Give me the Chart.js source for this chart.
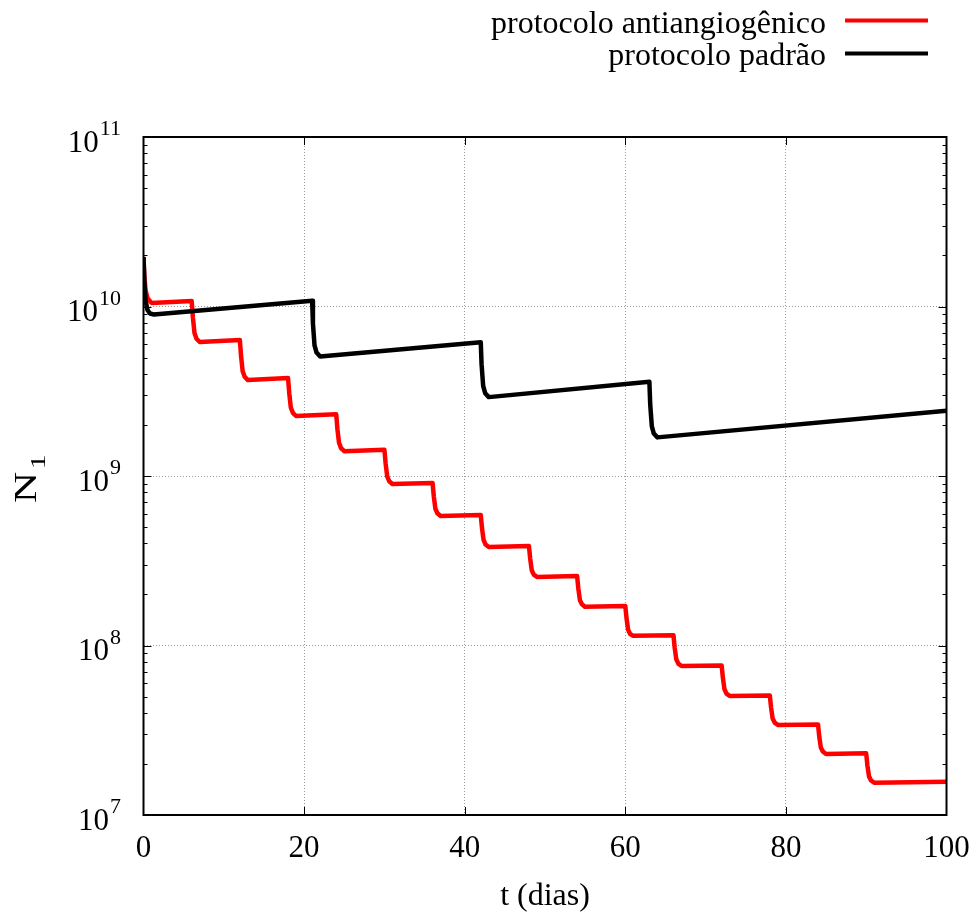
<!DOCTYPE html>
<html>
<head>
<meta charset="utf-8">
<title>N1 - protocolos</title>
<script src="https://cdn.jsdelivr.net/npm/chart.js@4.4.0/dist/chart.umd.min.js"></script>
<style>
  html, body { margin: 0; padding: 0; background: #fff; }
  #wrap { width: 978px; height: 913px; }
</style>
</head>
<body>
<div id="wrap"><canvas id="grafico" width="978" height="913"></canvas></div>
<script>
// dados (t em dias, N1 em células)
const tAnti = [0, 0.1, 0.25, 0.5, 1,
  6, 6.15, 6.35, 6.6, 7,
  12, 12.15, 12.35, 12.6, 13,
  18, 18.15, 18.35, 18.6, 19,
  24, 24.15, 24.35, 24.6, 25,
  30, 30.15, 30.35, 30.6, 31,
  36, 36.15, 36.35, 36.6, 37,
  42, 42.15, 42.35, 42.6, 43,
  48, 48.15, 48.35, 48.6, 49,
  54, 54.15, 54.35, 54.6, 55,
  60, 60.15, 60.35, 60.6, 61,
  66, 66.15, 66.35, 66.6, 67,
  72, 72.15, 72.35, 72.6, 73,
  78, 78.15, 78.35, 78.6, 79,
  84, 84.15, 84.35, 84.6, 85,
  90, 90.15, 90.35, 90.6, 91,
  100];
const nAnti = [1.96e10, 1.53e10, 1.25e10, 1.12e10, 1.05e10,
  1.076e10, 8.61e9, 6.97e9, 6.45e9, 6.17e9,
  6.34e9, 5.10e9, 4.15e9, 3.85e9, 3.68e9,
  3.78e9, 3.08e9, 2.53e9, 2.36e9, 2.26e9,
  2.31e9, 1.89e9, 1.57e9, 1.46e9, 1.40e9,
  1.43e9, 1.19e9, 9.95e8, 9.31e8, 8.97e8,
  9.10e8, 7.60e8, 6.41e8, 6.03e8, 5.81e8,
  5.89e8, 4.94e8, 4.20e8, 3.94e8, 3.81e8,
  3.86e8, 3.27e8, 2.78e8, 2.62e8, 2.54e8,
  2.57e8, 2.17e8, 1.85e8, 1.75e8, 1.69e8,
  1.71e8, 1.45e8, 1.24e8, 1.17e8, 1.14e8,
  1.15e8, 9.70e7, 8.29e7, 7.82e7, 7.57e7,
  7.62e7, 6.46e7, 5.52e7, 5.20e7, 5.04e7,
  5.07e7, 4.32e7, 3.71e7, 3.51e7, 3.40e7,
  3.42e7, 2.91e7, 2.50e7, 2.37e7, 2.29e7,
  2.31e7, 1.96e7, 1.69e7, 1.60e7, 1.55e7,
  1.57e7];

const tPadrao = [0, 0.1, 0.25, 0.5, 0.8, 1.3,
  21, 21.1, 21.3, 21.55, 22,
  42, 42.1, 42.3, 42.55, 43,
  63, 63.1, 63.3, 63.55, 64,
  100];
const nPadrao = [1.96e10, 1.43e10, 1.09e10, 9.53e9, 9.09e9, 8.97e9,
  1.08e10, 7.96e9, 5.89e9, 5.35e9, 5.07e9,
  6.16e9, 4.57e9, 3.40e9, 3.08e9, 2.92e9,
  3.60e9, 2.66e9, 1.97e9, 1.78e9, 1.69e9,
  2.43e9];

const xTicks = [0, 20, 40, 60, 80, 100];
const yExpoentes = [7, 8, 9, 10, 11];

const labelAnti = 'protocolo antiangiogênico';
const labelPadrao = 'protocolo padrão';
const tituloX = 't (dias)';
const tituloY = 'N';
const tituloYSub = '1';

const fonte = 'Liberation Serif';

function pontos(ts, ns) {
    return ts.map((t, i) => ({ x: t, y: ns[i] }));
}

// eixos, marcas, rótulos em potência de 10 e legenda (estilo gnuplot)
const extras = {
    id: 'extras',
    afterDraw(chart) {
        const { ctx, chartArea: a, scales: { x, y } } = chart;
        ctx.save();

        // marcas internas
        ctx.strokeStyle = '#000';
        ctx.lineWidth = 1;
        ctx.beginPath();
        xTicks.slice(1, -1).forEach(v => {
            const px = Math.round(x.getPixelForValue(v)) + 0.5;
            ctx.moveTo(px, a.bottom); ctx.lineTo(px, a.bottom - 8);
            ctx.moveTo(px, a.top); ctx.lineTo(px, a.top + 8);
        });
        yExpoentes.forEach((e, i) => {
            const py = Math.round(y.getPixelForValue(Math.pow(10, e))) + 0.5;
            ctx.moveTo(a.left, py); ctx.lineTo(a.left + 8, py);
            ctx.moveTo(a.right, py); ctx.lineTo(a.right - 8, py);
            if (i < yExpoentes.length - 1) {
                for (let m = 2; m <= 9; m++) {
                    const pm = Math.round(y.getPixelForValue(m * Math.pow(10, e))) + 0.5;
                    ctx.moveTo(a.left, pm); ctx.lineTo(a.left + 4, pm);
                    ctx.moveTo(a.right, pm); ctx.lineTo(a.right - 4, pm);
                }
            }
        });
        ctx.stroke();

        // caixa
        ctx.lineWidth = 2;
        ctx.strokeRect(a.left, a.top, a.right - a.left, a.bottom - a.top);

        // rótulos do eixo y: 10^e
        ctx.fillStyle = '#000';
        ctx.textBaseline = 'alphabetic';
        yExpoentes.forEach(e => {
            const py = y.getPixelForValue(Math.pow(10, e));
            const exp = String(e);
            ctx.font = '22px "' + fonte + '"';
            const w = ctx.measureText(exp).width;
            ctx.textAlign = 'left';
            ctx.fillText(exp, 121 - w, py - 2);
            ctx.font = '31px "' + fonte + '"';
            ctx.textAlign = 'right';
            ctx.fillText('10', 121 - w - 1, py + 14.5);
        });

        // título do eixo y: N com índice 1
        ctx.save();
        ctx.translate(36, 503);
        ctx.rotate(-Math.PI / 2);
        ctx.scale(1.35, 1);
        ctx.textAlign = 'left';
        ctx.font = '32px "' + fonte + '"';
        ctx.fillText(tituloY, 0, 0);
        ctx.font = '22px "' + fonte + '"';
        ctx.fillText(tituloYSub, 25, 9);
        ctx.restore();

        // legenda no canto superior direito
        const linhas = [
            { ds: chart.data.datasets[0], base: 33, ly: 20.5 },
            { ds: chart.data.datasets[1], base: 65, ly: 53.5 }
        ];
        linhas.forEach(l => {
            ctx.font = '32px "' + fonte + '"';
            ctx.textAlign = 'right';
            ctx.fillStyle = '#000';
            ctx.fillText(l.ds.label, 826, l.base);
            ctx.strokeStyle = l.ds.borderColor;
            ctx.lineWidth = 4;
            ctx.beginPath();
            ctx.moveTo(845, l.ly);
            ctx.lineTo(928, l.ly);
            ctx.stroke();
        });

        ctx.restore();
    }
};

const ctxN = document.getElementById('grafico').getContext('2d');
const graficoN = new Chart(ctxN, {
    type: 'line',
    data: {
        datasets: [{
            label: labelAnti,
            data: pontos(tAnti, nAnti),
            borderColor: '#ff0000',
            borderWidth: 4.5,
            borderJoinStyle: 'round',
            pointRadius: 0,
            fill: false,
            tension: 0,
            order: 1
        }, {
            label: labelPadrao,
            data: pontos(tPadrao, nPadrao),
            borderColor: '#000000',
            borderWidth: 4.5,
            borderJoinStyle: 'round',
            pointRadius: 0,
            fill: false,
            tension: 0,
            order: 0
        }]
    },
    options: {
        responsive: false,
        animation: false,
        devicePixelRatio: 1,
        layout: {
            padding: { top: 137, right: 31.5, left: 0, bottom: 0 }
        },
        scales: {
            x: {
                type: 'linear',
                min: 0,
                max: 100,
                afterBuildTicks: (s) => { s.ticks = xTicks.map(v => ({ value: v })); },
                afterFit: (s) => { s.height = 98; s.paddingLeft = 0; s.paddingRight = 0; },
                ticks: {
                    color: '#000',
                    padding: 18,
                    maxRotation: 0,
                    font: { family: fonte, size: 31, lineHeight: 1 }
                },
                grid: {
                    color: '#9a9a9a',
                    lineWidth: 1,
                    drawTicks: false
                },
                border: { display: false, dash: [1, 2] },
                title: {
                    display: true,
                    text: tituloX,
                    color: '#000',
                    padding: 0,
                    font: { family: fonte, size: 32, lineHeight: 1 }
                }
            },
            y: {
                type: 'logarithmic',
                min: 1e7,
                max: 1e11,
                afterBuildTicks: (s) => { s.ticks = yExpoentes.map(e => ({ value: Math.pow(10, e) })); },
                afterFit: (s) => { s.width = 143.5; s.paddingTop = 0; s.paddingBottom = 0; },
                ticks: { display: false },
                grid: {
                    color: '#9a9a9a',
                    lineWidth: 1,
                    drawTicks: false
                },
                border: { display: false, dash: [1, 2] }
            }
        },
        plugins: {
            legend: { display: false },
            tooltip: { enabled: false }
        }
    },
    plugins: [extras]
});
</script>
</body>
</html>
